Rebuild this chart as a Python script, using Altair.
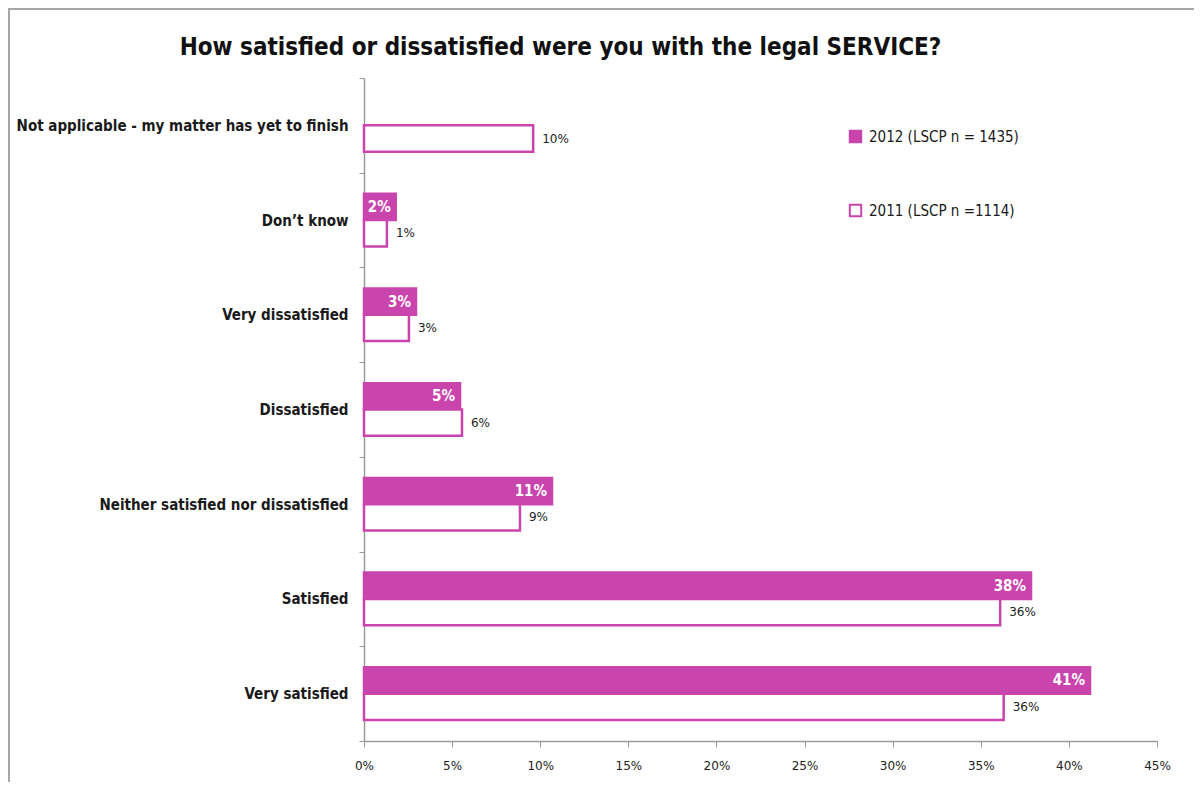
import altair as alt
import pandas as pd

categories = [
    "Not applicable - my matter has yet to finish",
    "Don\u2019t know",
    "Very dissatisfied",
    "Dissatisfied",
    "Neither satisfied nor dissatisfied",
    "Satisfied",
    "Very satisfied",
]
series = ["2012 (LSCP n = 1435)", "2011 (LSCP n =1114)"]
values_2012 = [None, 0.018, 0.0295, 0.0545, 0.1067, 0.3785, 0.412]
values_2011 = [0.096, 0.013, 0.0255, 0.0556, 0.0885, 0.361, 0.363]
x_ticks = [0, 0.05, 0.10, 0.15, 0.20, 0.25, 0.30, 0.35, 0.40, 0.45]

rows = []
for cat, a, b in zip(categories, values_2012, values_2011):
    if a is not None:
        rows.append({"category": cat, "series": series[0], "value": a})
    if b is not None:
        rows.append({"category": cat, "series": series[1], "value": b})
df = pd.DataFrame(rows)

MAG = "#C944AC"
LABEL_FONT = "Liberation Sans Narrow, DejaVu Sans Condensed, Arial Narrow, sans-serif"
SMALL_FONT = "DejaVu Sans, Verdana, sans-serif"

base = alt.Chart(df).encode(
    y=alt.Y(
        "category:N",
        sort=categories,
        scale=alt.Scale(paddingInner=0, paddingOuter=0),
        axis=alt.Axis(
            title=None,
            tickBand="extent",
            tickSize=5,
            tickColor="#9a9a9a",
            domainColor="#9a9a9a",
            domainWidth=1.5,
            labelFont=LABEL_FONT,
            labelFontSize=15,
            labelFontWeight="bold",
            labelColor="#1a1a1a",
            labelPadding=11,
            labelLimit=400,
        ),
    ),
    yOffset=alt.YOffset(
        "series:N",
        sort=series,
        scale=alt.Scale(paddingInner=0, paddingOuter=0.8),
    ),
    x=alt.X(
        "value:Q",
        scale=alt.Scale(domain=[0, 0.45], nice=False),
        axis=alt.Axis(
            title=None,
            format=".0%",
            values=x_ticks,
            grid=False,
            tickSize=6,
            tickColor="#9a9a9a",
            domainColor="#9a9a9a",
            domainWidth=1.5,
            labelFont=SMALL_FONT,
            labelFontSize=12,
            labelColor="#222222",
            labelPadding=13,
            labelFlush=False,
        ),
    ),
)

bars = base.mark_bar(stroke=MAG, strokeWidth=2.5).encode(
    fill=alt.Fill(
        "series:N",
        sort=series,
        scale=alt.Scale(domain=series, range=[MAG, "#ffffff"]),
        legend=alt.Legend(
            title=None,
            orient="none",
            legendX=484,
            legendY=51,
            symbolType="square",
            symbolSize=130,
            symbolStrokeColor=MAG,
            symbolStrokeWidth=2,
            labelFont=LABEL_FONT,
            labelFontSize=15,
            labelColor="#1a1a1a",
            rowPadding=53,
            labelOffset=6,
        ),
    )
)

text_2012 = base.transform_filter(alt.datum.series == series[0]).mark_text(
    align="right", baseline="middle", dx=-5, color="white",
    font=LABEL_FONT, fontSize=15, fontWeight="bold",
).encode(text=alt.Text("value:Q", format=".0%"))

text_2011 = base.transform_filter(alt.datum.series == series[1]).mark_text(
    align="left", baseline="middle", dx=9, color="#222222",
    font=SMALL_FONT, fontSize=12,
).encode(text=alt.Text("value:Q", format=".0%"))

border = alt.Chart(pd.DataFrame({"b": [1]})).mark_rect(
    fill=None, stroke="#a6a6a6", strokeWidth=2
).encode(
    x=alt.value(-355), x2=alt.value(900),
    y=alt.value(-69), y2=alt.value(800),
)

chart = alt.layer(border, bars, text_2012, text_2011).properties(
    width=793,
    height=663,
    autosize=alt.AutoSizeParams(type="none"),
    padding={"left": 356, "top": 70, "right": 37, "bottom": 41},
    title=alt.TitleParams(
        "How satisfied or dissatisfied were you with the legal SERVICE?",
        font=LABEL_FONT,
        fontSize=24,
        fontWeight="bold",
        color="#111111",
        anchor="middle",
        dx=-200,
        offset=-52,
    ),
).configure_view(stroke=None)

chart.save("out.html", embed_options={"renderer": "svg", "actions": False})
